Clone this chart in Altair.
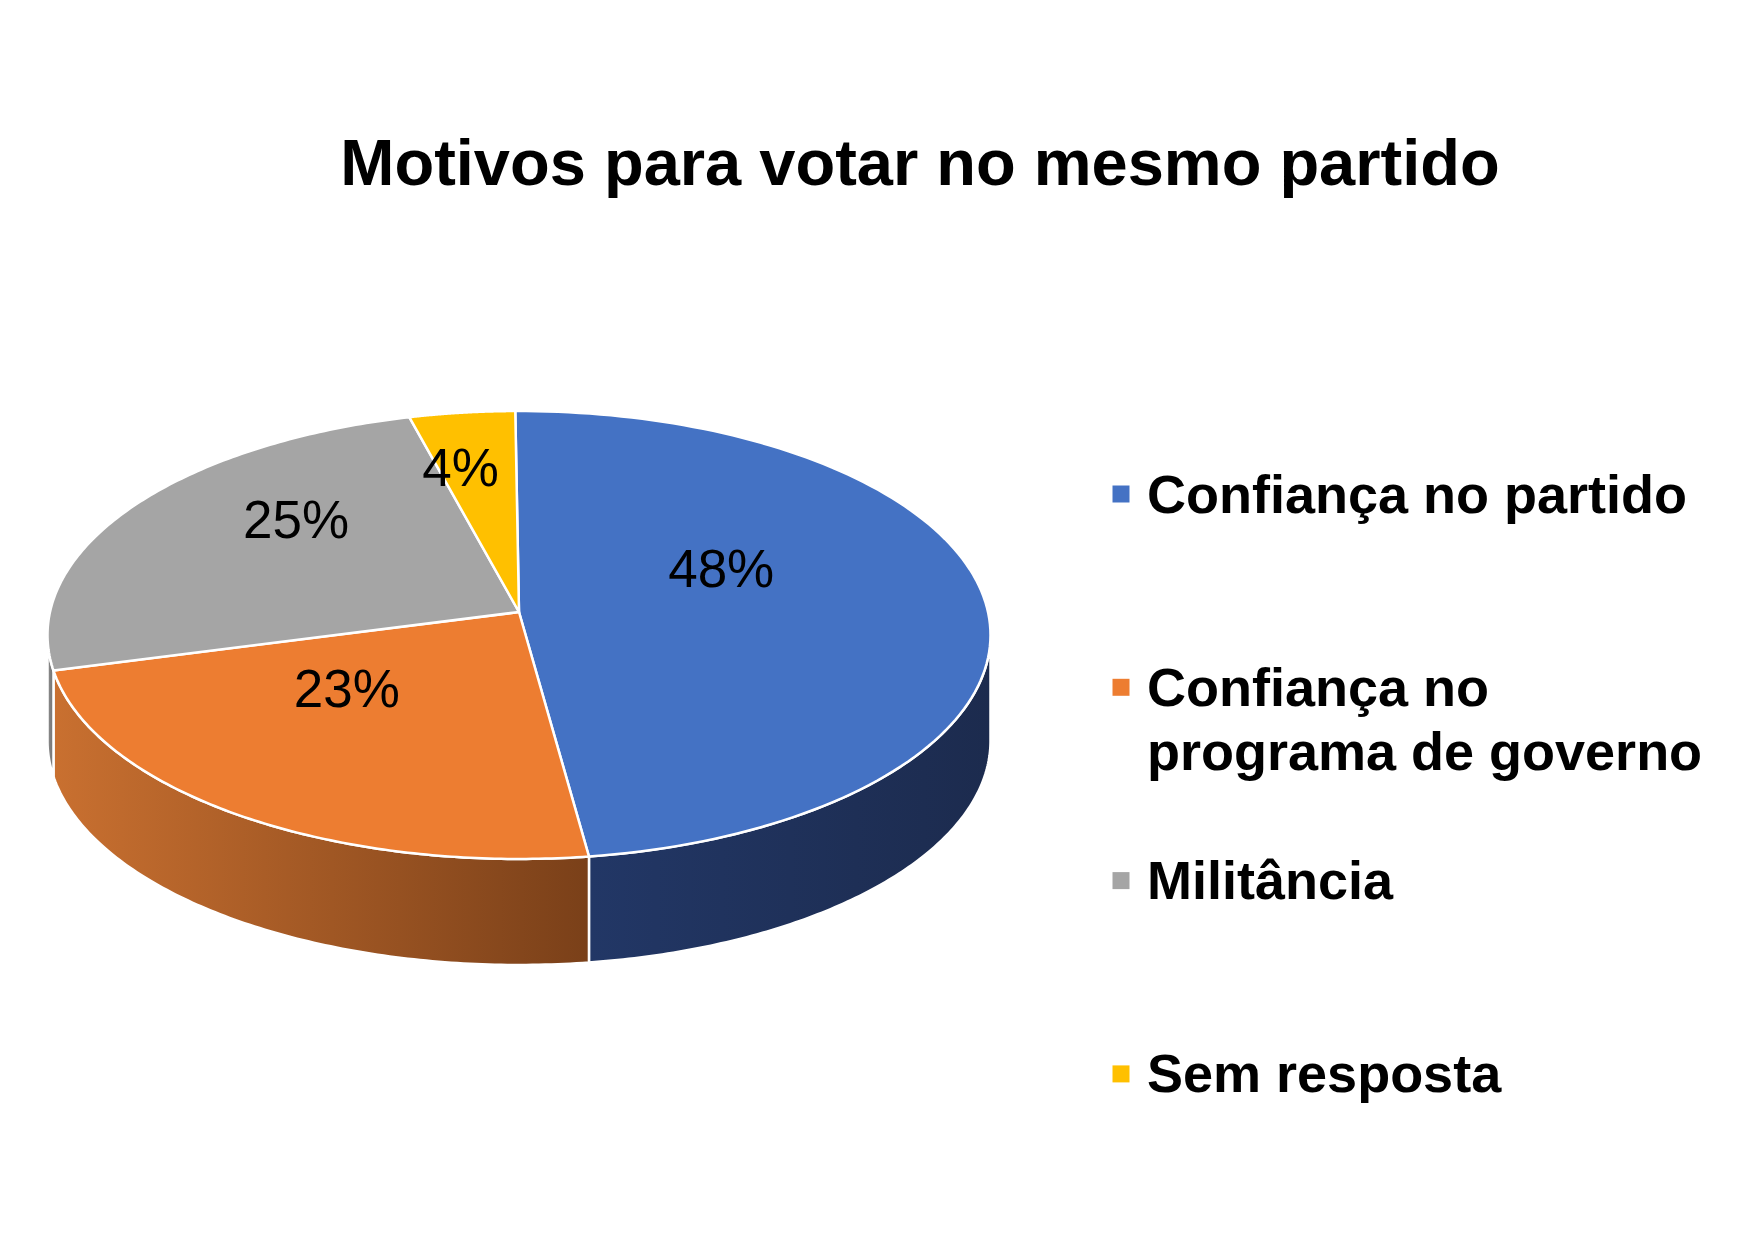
import math
import altair as alt
import pandas as pd

# ---- data ----
categories = ["Confiança no partido", "Confiança no programa de governo", "Militância", "Sem resposta"]
legend_labels = ["Confiança no partido", "Confiança no\nprograma de governo", "Militância", "Sem resposta"]
values = [48, 23, 25, 4]
colors = ["#4472C4", "#ED7D31", "#A5A5A5", "#FFC000"]
title_text = "Motivos para votar no mesmo partido"

# ---- layout / style constants (pixel units of the page) ----
FONT = "Liberation Sans"
W, H = 1725, 1215
OX, OY = 8, 8
AX, AY = 519, 612          # projected pie centre (apex)
A, B, K = 469, 221.6, 0.1027   # perspective projection of the top face
DEPTH = 106
ROT = -0.5                 # first slice angle (deg)
N = 120                    # vertices per arc
LFX, LXSHIFT = 0.50, -30   # label placement
LFY, LYSHIFT = 0.55, -32
PHI_L = math.degrees(math.acos(-K))  # silhouette angles of the cylinder
PHI_R = 360 - PHI_L

df = pd.DataFrame({
    "category": categories,
    "legend": legend_labels,
    "value": values,
    "idx": list(range(len(categories))),
})

xs = alt.Scale(domain=[OX, OX + W], nice=False, zero=False)
ys = alt.Scale(domain=[OY, OY + H], nice=False, zero=False, reverse=True)
cs = alt.Scale(domain=categories, range=colors)

base = (
    alt.Chart(df)
    .transform_joinaggregate(total="sum(value)")
    .transform_window(cum="sum(value)", sort=[alt.SortField("idx")], frame=[None, 0])
    .transform_calculate(start="datum.cum - datum.value")
)

X = lambda f: alt.X(f, type="quantitative", scale=xs, axis=None)
Y = lambda f: alt.Y(f, type="quantitative", scale=ys, axis=None)

PX = f"{AX} + {A}*sin(datum.a)/(1 + {K}*cos(datum.a))"
PY = f"{AY} - {B}*cos(datum.a)/(1 + {K}*cos(datum.a))"

# ---- top face slices ----
top = (
    base.transform_calculate(steps=f"sequence(0, {N + 2})")
    .transform_flatten(["steps"], as_=["t"])
    .transform_calculate(
        a=f"(360*(datum.start + datum.value*min(datum.t,{N})/{N})/datum.total + {ROT})*PI/180"
    )
    .transform_calculate(
        px=f"datum.t > {N} ? {AX} : {PX}",
        py=f"datum.t > {N} ? {AY} : {PY}",
    )
    .mark_line(filled=True, interpolate="linear-closed", stroke="white",
               strokeWidth=2.5, strokeJoin="round", fillOpacity=1)
    .encode(
        x=X("px"), y=Y("py"),
        color=alt.Color("category:N", scale=cs, legend=None),
        order=alt.Order("t:Q"),
    )
)

# ---- side walls (front half) ----
wall_base = (
    base.transform_calculate(
        a0=f"360*datum.start/datum.total + {ROT}",
        a1=f"360*datum.cum/datum.total + {ROT}",
    )
    .transform_calculate(w0=f"max(datum.a0, {PHI_L})", w1=f"min(datum.a1, {PHI_R})")
    .transform_filter("datum.w1 > datum.w0")
    .transform_calculate(steps=f"sequence(0, {2 * N + 2})")
    .transform_flatten(["steps"], as_=["t"])
    .transform_calculate(
        a=f"(datum.t <= {N} ? datum.w0 + (datum.w1-datum.w0)*datum.t/{N} : "
          f"datum.w1 - (datum.w1-datum.w0)*(datum.t-{N + 1})/{N})*PI/180"
    )
    .transform_calculate(
        px=PX,
        py=f"{PY} + (datum.t <= {N} ? 0 : {DEPTH})",
    )
)

wall_grads = [
    ("#223766", "#1C2B4E"),
    ("#C97030", "#7A4019"),
    ("#8C8C8C", "#737373"),
    ("#C99700", "#8F6B00"),
]

walls = []
for i, (c0, c1) in enumerate(wall_grads):
    grad = alt.Gradient(
        gradient="linear",
        stops=[alt.GradientStop(color=c0, offset=0), alt.GradientStop(color=c1, offset=1)],
        x1=0, x2=1, y1=0, y2=0,
    )
    walls.append(
        wall_base.transform_filter(f"datum.idx == {i}")
        .mark_line(filled=True, fill=grad, interpolate="linear-closed", stroke="white",
                   strokeWidth=2.5, strokeJoin="round", fillOpacity=1)
        .encode(x=X("px"), y=Y("py"), order=alt.Order("t:Q"))
    )

# ---- percentage labels ----
labels = (
    base.transform_calculate(
        a=f"(360*(datum.start + datum.value/2)/datum.total + {ROT})*PI/180"
    )
    .transform_calculate(
        lx=f"{AX} + {LFX}*({PX} - {AX}) + {LXSHIFT}",
        ly=f"{AY} + {LFY}*({PY} - {AY}) + {LYSHIFT}",
        txt="datum.value + '%'",
    )
    .mark_text(font=FONT, fontSize=53, color="black", align="center", baseline="middle")
    .encode(x=X("lx"), y=Y("ly"), text="txt:N")
)

# ---- legend ----
leg_sq = (
    alt.Chart(df)
    .transform_calculate(sx="1121", sy="494 + datum.idx*193.3")
    .mark_square(size=289, opacity=1)
    .encode(x=X("sx"), y=Y("sy"), color=alt.Color("category:N", scale=cs, legend=None))
)
leg_txt = (
    alt.Chart(df)
    .transform_calculate(tx="1147", ty="512.5 + datum.idx*193.3")
    .mark_text(font=FONT, fontSize=54, fontWeight="bold", color="black", align="left",
               baseline="alphabetic", lineBreak="\n", lineHeight=64)
    .encode(x=X("tx"), y=Y("ty"), text="legend:N")
)

# ---- title ----
title = (
    alt.Chart(pd.DataFrame({"title": [title_text]}))
    .transform_calculate(tx="920", ty="185")
    .mark_text(font=FONT, fontSize=65, fontWeight="bold", color="black", align="center",
               baseline="alphabetic")
    .encode(x=X("tx"), y=Y("ty"), text="title:N")
)

chart = (
    alt.layer(*walls, top, labels, leg_sq, leg_txt, title)
    .properties(width=W, height=H, padding=0, autosize=alt.AutoSizeParams(type="none"),
                background="white")
    .configure_view(stroke=None)
)

chart.save("out.html", embed_options={"renderer": "svg", "actions": False})
